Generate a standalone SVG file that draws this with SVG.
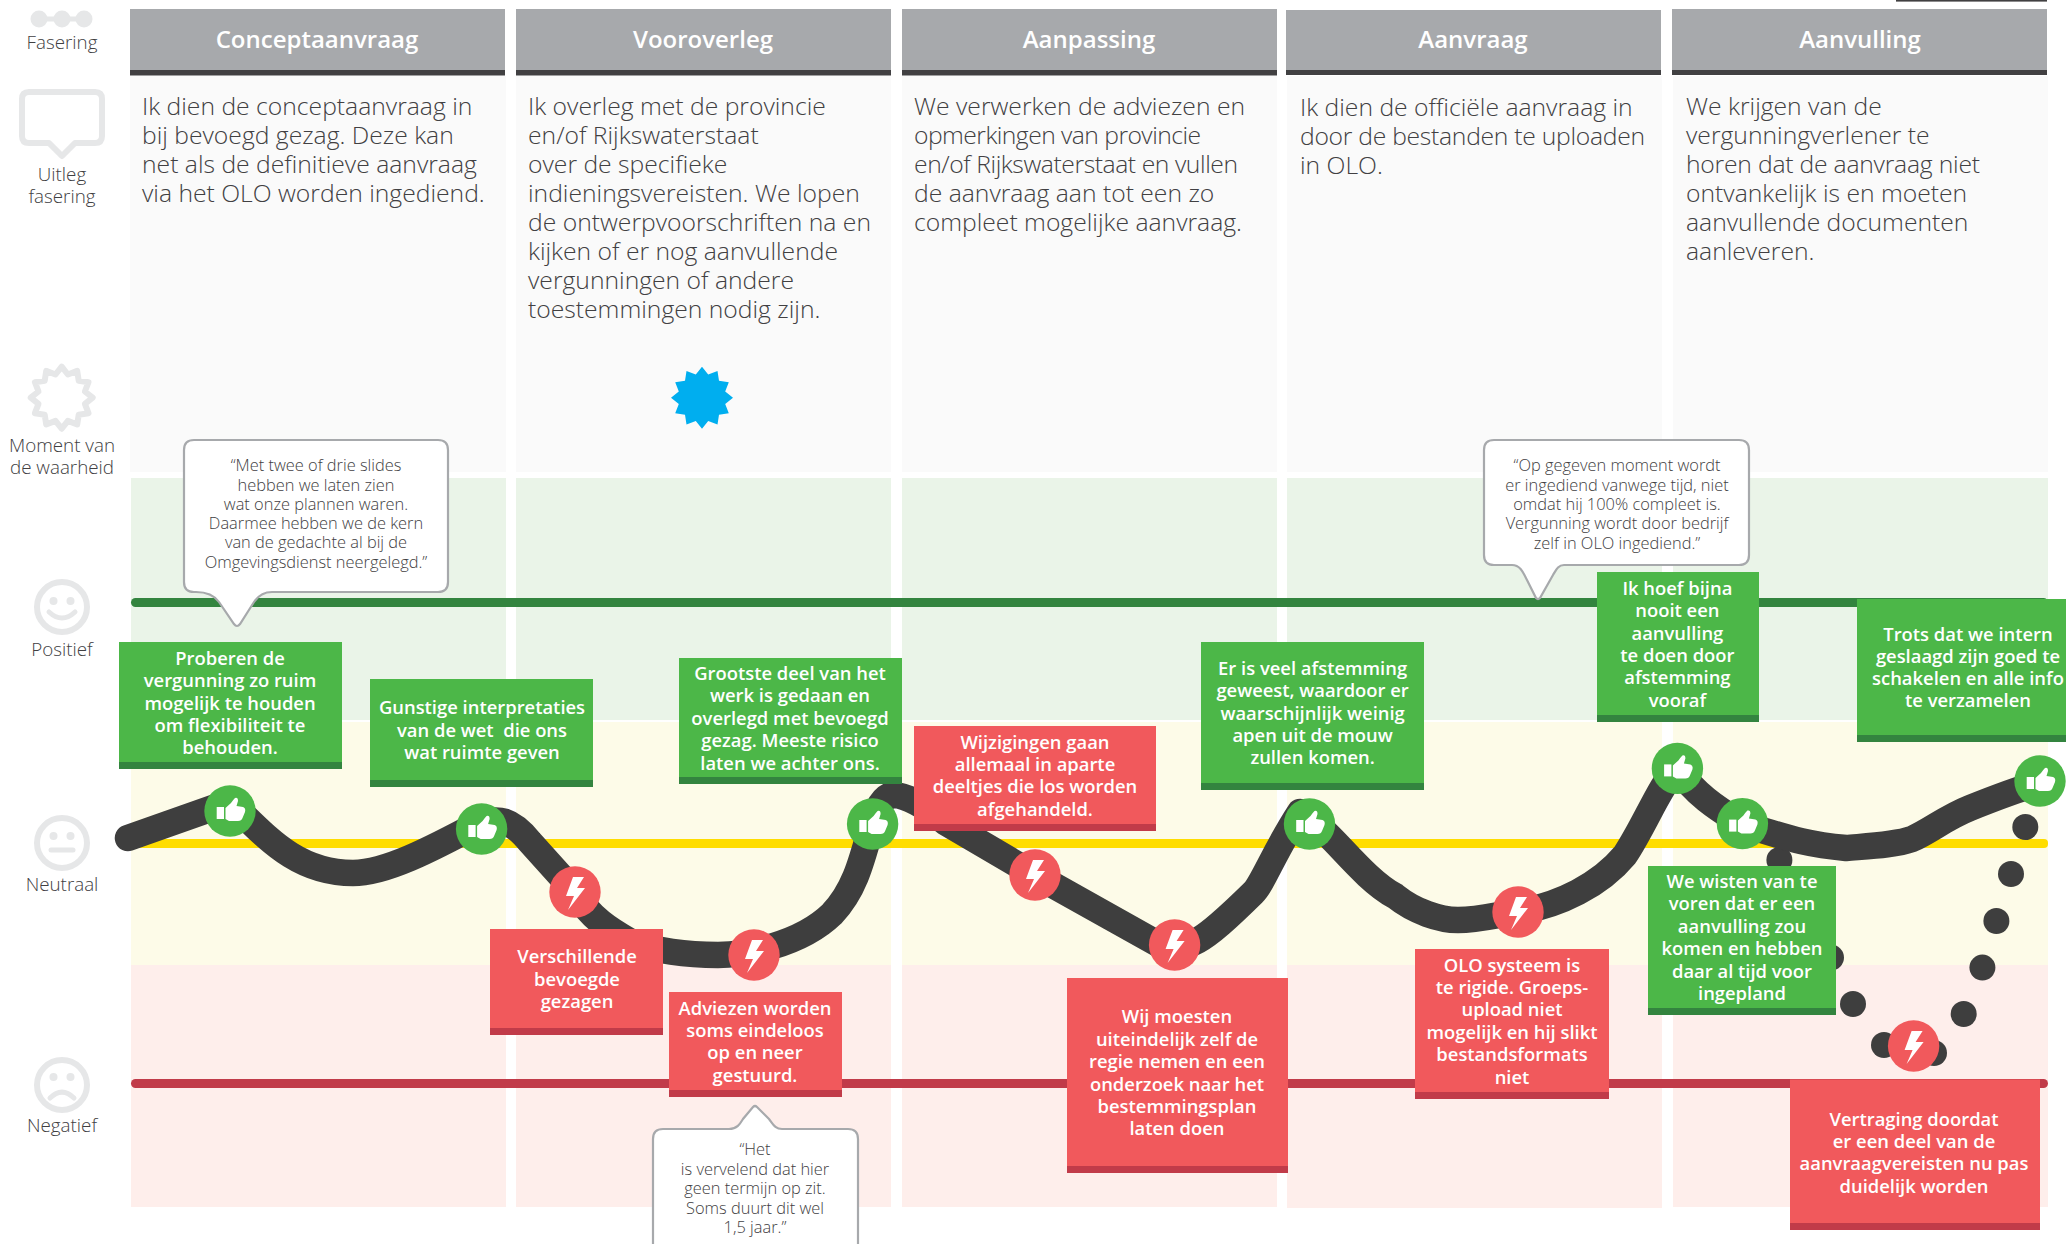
<svg xmlns="http://www.w3.org/2000/svg" xmlns:xlink="http://www.w3.org/1999/xlink" width="2066" height="1244" viewBox="0 0 2066 1244">
<style>
text{font-family:"Open Sans","Noto Sans",sans-serif}
.hdr{fill:#a7a9ac}.hb{fill:#414042}.pan{fill:#fafafa}
.pos{fill:#eaf4e8}.neu{fill:#fdfbe8}.neg{fill:#feeeeb}
.ht{font-size:24px;font-weight:600;fill:#fff;text-anchor:middle}
.body{font-size:24.7px;font-weight:300;fill:#414042}
.lab{font-size:18.8px;font-weight:300;fill:#414042;text-anchor:middle}
.nt{font-size:18.4px;font-weight:600;fill:#fff;text-anchor:middle}
.g{fill:#4cb748}.gd{fill:#33843f}.r{fill:#f1595c}.rd{fill:#c13b49}
.q{fill:#fff;stroke:#a7a9ac;stroke-width:2.2}
.qt{font-size:16.4px;font-weight:300;fill:#414042;text-anchor:middle}
.ic{fill:none;stroke:#e6e7e8;stroke-width:6;stroke-linejoin:round;stroke-linecap:round}
.icf{fill:#e6e7e8}
.dot{fill:#3e3e3e}
</style>
<defs>
<g id="thumb"><circle r="25.7" class="g"/><rect x="-13.300" y="-4" width="7.300" height="12" fill="#fff"/><path d="M-4.500,-3 L1,-8 Q3,-11 5,-13 Q8,-14 8,-10 L6.500,-5 L13,-4 Q16,-3 15,1 L12.500,7 Q11.500,10 8,10 L-1,10 L-4.500,8 Z" fill="#fff"/></g>
<g id="bolt"><circle r="25.7" class="r"/><polygon points="-2,-15 9,-15 2,-4 10,-4 -7,18 -1,4 -9,4" fill="#fff"/></g>
<polygon id="star" points="0,-31 6.200,-23.200 15.500,-26.800 17,-17 26.800,-15.500 23.200,-6.200 31,0 23.200,6.200 26.800,15.500 17,17 15.500,26.800 6.200,23.200 0,31 -6.200,23.200 -15.500,26.800 -17,17 -26.800,15.500 -23.200,6.200 -31,0 -23.200,-6.200 -26.800,-15.500 -17,-17 -15.500,-26.800 -6.200,-23.200"/>
</defs>
<rect width="2066" height="1244" fill="#fff"/>
<rect x="1896" y="0" width="151" height="1.6" fill="#414042"/>

<g id="bands">
<rect class="pan" x="130" y="76" width="376" height="396"/><rect class="pan" x="516" y="76" width="375" height="396"/><rect class="pan" x="902" y="76" width="375" height="396"/><rect class="pan" x="1287" y="76" width="375" height="396"/><rect class="pan" x="1673" y="76" width="375" height="396"/>
<rect class="pos" x="131" y="478" width="375" height="242"/><rect class="pos" x="516" y="478" width="375" height="242"/><rect class="pos" x="902" y="478" width="375" height="242"/><rect class="pos" x="1287" y="478" width="375" height="242"/><rect class="pos" x="1673" y="478" width="375" height="242"/>
<rect class="neu" x="131" y="722" width="375" height="243"/><rect class="neu" x="516" y="722" width="375" height="243"/><rect class="neu" x="902" y="722" width="375" height="243"/><rect class="neu" x="1287" y="722" width="375" height="243"/><rect class="neu" x="1673" y="722" width="375" height="243"/>
<rect class="neg" x="131" y="965" width="375" height="242"/><rect class="neg" x="516" y="965" width="375" height="242"/><rect class="neg" x="902" y="965" width="375" height="242"/><rect class="neg" x="1287" y="965" width="375" height="243"/><rect class="neg" x="1673" y="965" width="375" height="242"/>
</g>

<g id="phase-1"><rect class="hdr" x="130" y="9" width="375" height="61"/><rect class="hb" x="130" y="70" width="375" height="5.5"/><text class="ht" x="317" y="48">Conceptaanvraag</text>
<text class="body" x="142" y="115">Ik dien de conceptaanvraag in</text><text class="body" x="142" y="144">bij bevoegd gezag. Deze kan</text><text class="body" x="142" y="173">net als de definitieve aanvraag</text><text class="body" x="142" y="202">via het OLO worden ingediend.</text></g>
<g id="phase-2"><rect class="hdr" x="516" y="9" width="375" height="61"/><rect class="hb" x="516" y="70" width="375" height="5.5"/><text class="ht" x="703" y="48">Vooroverleg</text>
<text class="body" x="528" y="115">Ik overleg met de provincie</text><text class="body" x="528" y="144">en/of Rijkswaterstaat</text><text class="body" x="528" y="173">over de specifieke</text><text class="body" x="528" y="202">indieningsvereisten. We lopen</text><text class="body" x="528" y="231">de ontwerpvoorschriften na en</text><text class="body" x="528" y="260">kijken of er nog aanvullende</text><text class="body" x="528" y="289">vergunningen of andere</text><text class="body" x="528" y="318">toestemmingen nodig zijn.</text>
<use href="#star" xlink:href="#star" fill="#00aeef" transform="translate(702,397.700)"/></g>
<g id="phase-3"><rect class="hdr" x="902" y="9" width="375" height="61"/><rect class="hb" x="902" y="70" width="375" height="5.5"/><text class="ht" x="1089" y="48">Aanpassing</text>
<text class="body" x="914" y="115">We verwerken de adviezen en</text><text class="body" x="914" y="144" textLength="287">opmerkingen van provincie</text><text class="body" x="914" y="173" textLength="324">en/of Rijkswaterstaat en vullen</text><text class="body" x="914" y="202">de aanvraag aan tot een zo</text><text class="body" x="914" y="231">compleet mogelijke aanvraag.</text></g>
<g id="phase-4"><rect class="hdr" x="1286" y="10" width="375" height="60"/><rect class="hb" x="1286" y="70" width="375" height="5"/><text class="ht" x="1473" y="48">Aanvraag</text>
<text class="body" x="1300" y="115.500">Ik dien de officiële aanvraag in</text><text class="body" x="1300" y="144.500" textLength="345">door de bestanden te uploaden</text><text class="body" x="1300" y="173.500">in OLO.</text></g>
<g id="phase-5"><rect class="hdr" x="1672" y="9" width="375" height="61"/><rect class="hb" x="1672" y="70" width="375" height="5"/><text class="ht" x="1860" y="48">Aanvulling</text>
<text class="body" x="1686" y="115">We krijgen van de</text><text class="body" x="1686" y="144">vergunningverlener te</text><text class="body" x="1686" y="173" textLength="294">horen dat de aanvraag niet</text><text class="body" x="1686" y="202">ontvankelijk is en moeten</text><text class="body" x="1686" y="231">aanvullende documenten</text><text class="body" x="1686" y="260">aanleveren.</text></g>

<g id="label-fasering"><path d="M39,19H84" stroke="#e6e7e8" stroke-width="5"/><circle class="icf" cx="39" cy="19" r="8.500"/><circle class="icf" cx="62" cy="19" r="8.500"/><circle class="icf" cx="84" cy="19" r="8.500"/><text class="lab" x="62" y="49">Fasering</text></g>
<g id="label-uitleg"><path class="ic" d="M29,92H95Q102,92 102,99V136Q102,143 95,143H75L62,156L49,143H29Q22,143 22,136V99Q22,92 29,92Z"/><text class="lab" x="62" y="181">Uitleg</text><text class="lab" x="62" y="203">fasering</text></g>
<g id="label-moment"><use href="#star" xlink:href="#star" class="ic" transform="translate(61.700,397.700)"/><text class="lab" x="62" y="452">Moment van</text><text class="lab" x="62" y="474">de waarheid</text></g>
<g id="label-positief"><circle class="ic" cx="62" cy="607" r="25"/><circle class="icf" cx="53.500" cy="601" r="4"/><circle class="icf" cx="70.500" cy="601" r="4"/><path class="ic" style="stroke-width:5" d="M49,612Q62,624 75,612"/><text class="lab" x="62" y="656">Positief</text></g>
<g id="label-neutraal"><circle class="ic" cx="62" cy="843" r="25"/><circle class="icf" cx="53.500" cy="836" r="4"/><circle class="icf" cx="70.500" cy="836" r="4"/><path class="ic" style="stroke-width:5" d="M51,850H73"/><text class="lab" x="62" y="891">Neutraal</text></g>
<g id="label-negatief"><circle class="ic" cx="62" cy="1085" r="25"/><circle class="icf" cx="53.500" cy="1077" r="4"/><circle class="icf" cx="70.500" cy="1077" r="4"/><path class="ic" style="stroke-width:5" d="M50,1098Q62,1086 74,1098"/><text class="lab" x="62" y="1132">Negatief</text></g>

<g id="connectors">
<rect x="131" y="598" width="1917" height="9" rx="4.500" fill="#33843f"/>
<rect x="131" y="839" width="1917" height="9" rx="4" fill="#ffdd00"/>
<rect x="131" y="1079" width="1917" height="9" rx="4.500" fill="#c13b49"/>
<circle class="dot" cx="2025.300" cy="827" r="13"/><circle class="dot" cx="2011" cy="874" r="13"/><circle class="dot" cx="1996.400" cy="921" r="13"/><circle class="dot" cx="1982.400" cy="967.600" r="13"/><circle class="dot" cx="1963.700" cy="1014" r="13"/><circle class="dot" cx="1934" cy="1053" r="13"/><circle class="dot" cx="1884" cy="1045" r="13"/><circle class="dot" cx="1853" cy="1004" r="13"/><circle class="dot" cx="1831" cy="957.600" r="13"/><circle class="dot" cx="1779.400" cy="860" r="13"/>
<path fill="none" stroke="#3e3e3e" stroke-width="26.500" stroke-linecap="round" stroke-linejoin="round" d="M128,838 L230,802 C265,835 295,873 353,873 C385,873 430,850 482,822 C495,820 508,815 530,842 L575,892 C590,918 610,930 631,942 C660,952 690,955 718,955 C745,955 800,945 832,914 C855,890 862,860 872,824 C878,805 885,795 893,795 C905,795 925,805 945,822 L1035,875 L1160,945 C1190,950 1200,945 1253,893 C1262,885 1275,850 1300,812 L1316,824 C1335,838 1365,880 1395,896 C1415,912 1440,920 1458,920 C1480,920 1500,914 1518,912 C1560,905 1600,885 1625,855 C1645,825 1660,785 1677,768 C1695,795 1720,810 1742,824 C1780,835 1800,844 1846,848 C1870,846 1895,845 1912,839 C1932,830 1945,818 1970,808 C1990,800 2015,790 2040,783"/>
</g>

<g id="nodes">
<use id="m1" xlink:href="#thumb" href="#thumb" x="230" y="811"/>
<use id="m2" xlink:href="#thumb" href="#thumb" x="481.600" y="829"/>
<use id="m3" xlink:href="#bolt" href="#bolt" x="575" y="892"/>
<use id="m4" xlink:href="#bolt" href="#bolt" x="754" y="955"/>
<use id="m5" xlink:href="#thumb" href="#thumb" x="872.600" y="824"/>
<use id="m6" xlink:href="#bolt" href="#bolt" x="1035" y="875"/>
<use id="m7" xlink:href="#bolt" href="#bolt" x="1174.600" y="945"/>
<use id="m8" xlink:href="#thumb" href="#thumb" x="1309.500" y="824"/>
<use id="m9" xlink:href="#bolt" href="#bolt" x="1518" y="912"/>
<use id="m10" xlink:href="#thumb" href="#thumb" x="1677.400" y="768.400"/>
<use id="m11" xlink:href="#thumb" href="#thumb" x="1742.400" y="823.600"/>
<use id="m12" xlink:href="#thumb" href="#thumb" x="2040" y="781"/>
<use id="m13" xlink:href="#bolt" href="#bolt" x="1913.600" y="1046"/>
</g>

<g id="note-1"><rect class="g" x="119" y="642" width="223" height="120"/><rect class="gd" x="119" y="762" width="223" height="7"/><text class="nt"><tspan x="230" y="665">Proberen de</tspan><tspan x="230" y="687">vergunning zo ruim</tspan><tspan x="230" y="709.500">mogelijk te houden</tspan><tspan x="230" y="732">om flexibiliteit te</tspan><tspan x="230" y="754">behouden.</tspan></text></g>
<g id="note-2"><rect class="g" x="370" y="679" width="223" height="101"/><rect class="gd" x="370" y="780" width="223" height="7"/><text class="nt" xml:space="preserve"><tspan x="482" y="713.500">Gunstige interpretaties</tspan><tspan x="482" y="736.500">van de wet  die ons</tspan><tspan x="482" y="759">wat ruimte geven</tspan></text></g>
<g id="note-3"><rect class="g" x="679" y="658" width="223" height="119"/><rect class="gd" x="679" y="777" width="223" height="7"/><text class="nt"><tspan x="790" y="680">Grootste deel van het</tspan><tspan x="790" y="702">werk is gedaan en</tspan><tspan x="790" y="725">overlegd met bevoegd</tspan><tspan x="790" y="747">gezag. Meeste risico</tspan><tspan x="790" y="770">laten we achter ons.</tspan></text></g>
<g id="note-4"><rect class="r" x="490" y="929" width="173" height="99"/><rect class="rd" x="490" y="1028" width="173" height="7"/><text class="nt"><tspan x="577" y="963">Verschillende</tspan><tspan x="577" y="986">bevoegde</tspan><tspan x="577" y="1008">gezagen</tspan></text></g>
<g id="note-5"><rect class="r" x="669" y="992" width="173" height="98"/><rect class="rd" x="669" y="1090" width="173" height="7"/><text class="nt"><tspan x="755" y="1015">Adviezen worden</tspan><tspan x="755" y="1037">soms eindeloos</tspan><tspan x="755" y="1059">op en neer</tspan><tspan x="755" y="1082">gestuurd.</tspan></text></g>
<g id="note-6"><rect class="r" x="914" y="726" width="242" height="98"/><rect class="rd" x="914" y="824" width="242" height="7"/><text class="nt"><tspan x="1035" y="748.500">Wijzigingen gaan</tspan><tspan x="1035" y="771">allemaal in aparte</tspan><tspan x="1035" y="793">deeltjes die los worden</tspan><tspan x="1035" y="816">afgehandeld.</tspan></text></g>
<g id="note-7"><rect class="g" x="1201" y="642" width="223" height="141"/><rect class="gd" x="1201" y="783" width="223" height="7"/><text class="nt"><tspan x="1312.600" y="675">Er is veel afstemming</tspan><tspan x="1312.600" y="697">geweest, waardoor er</tspan><tspan x="1312.600" y="720">waarschijnlijk weinig</tspan><tspan x="1312.600" y="742">apen uit de mouw</tspan><tspan x="1312.600" y="764">zullen komen.</tspan></text></g>
<g id="note-8"><rect class="r" x="1067" y="978" width="221" height="188"/><rect class="rd" x="1067" y="1166" width="221" height="7"/><text class="nt"><tspan x="1177" y="1023">Wij moesten</tspan><tspan x="1177" y="1046">uiteindelijk zelf de</tspan><tspan x="1177" y="1068">regie nemen en een</tspan><tspan x="1177" y="1091">onderzoek naar het</tspan><tspan x="1177" y="1113">bestemmingsplan</tspan><tspan x="1177" y="1135">laten doen</tspan></text></g>
<g id="note-9"><rect class="r" x="1415" y="949" width="194" height="143"/><rect class="rd" x="1415" y="1092" width="194" height="7"/><text class="nt"><tspan x="1512" y="972">OLO systeem is</tspan><tspan x="1512" y="994">te rigide. Groeps-</tspan><tspan x="1512" y="1016">upload niet</tspan><tspan x="1512" y="1038.500">mogelijk en hij slikt</tspan><tspan x="1512" y="1061">bestandsformats</tspan><tspan x="1512" y="1084">niet</tspan></text></g>
<g id="note-10"><rect class="g" x="1597" y="572" width="162" height="143"/><rect class="gd" x="1597" y="715" width="162" height="7"/><text class="nt"><tspan x="1677.400" y="594.500">Ik hoef bijna</tspan><tspan x="1677.400" y="617">nooit een</tspan><tspan x="1677.400" y="640">aanvulling</tspan><tspan x="1677.400" y="662">te doen door</tspan><tspan x="1677.400" y="684">afstemming</tspan><tspan x="1677.400" y="707">vooraf</tspan></text></g>
<g id="note-11"><rect class="g" x="1857" y="599" width="209" height="136"/><rect class="gd" x="1857" y="735" width="209" height="7"/><text class="nt"><tspan x="1968" y="641">Trots dat we intern</tspan><tspan x="1968" y="663">geslaagd zijn goed te</tspan><tspan x="1968" y="684.500">schakelen en alle info</tspan><tspan x="1968" y="707">te verzamelen</tspan></text></g>
<g id="note-12"><rect class="g" x="1648" y="866" width="188" height="142"/><rect class="gd" x="1648" y="1008" width="188" height="7"/><text class="nt"><tspan x="1742" y="888">We wisten van te</tspan><tspan x="1742" y="910">voren dat er een</tspan><tspan x="1742" y="932.500">aanvulling zou</tspan><tspan x="1742" y="955">komen en hebben</tspan><tspan x="1742" y="978">daar al tijd voor</tspan><tspan x="1742" y="1000">ingepland</tspan></text></g>
<g id="note-13"><rect class="r" x="1790" y="1079.500" width="250" height="143.500"/><rect class="rd" x="1790" y="1223" width="250" height="7"/><text class="nt"><tspan x="1914" y="1126">Vertraging doordat</tspan><tspan x="1914" y="1148">er een deel van de</tspan><tspan x="1914" y="1170">aanvraagvereisten nu pas</tspan><tspan x="1914" y="1193">duidelijk worden</tspan></text></g>

<g id="quote-1"><path class="q" d="M194,440H438Q448,440 448,450V582Q448,592 438,592H272C264,592 258,596 254,602L240,624Q237,628 234,624L219,602C214,595 206,592 196,592H194Q184,592 184,582V450Q184,440 194,440Z"/><text class="qt"><tspan x="316" y="471">“Met twee of drie slides</tspan><tspan x="316" y="491">hebben we laten zien</tspan><tspan x="316" y="510">wat onze plannen waren.</tspan><tspan x="316" y="529">Daarmee hebben we de kern</tspan><tspan x="316" y="548">van de gedachte al bij de</tspan><tspan x="316" y="568">Omgevingsdienst neergelegd.”</tspan></text></g>
<g id="quote-2"><path class="q" d="M1494,440H1739Q1749,440 1749,450V555Q1749,565 1739,565H1564C1558,565 1556,570 1553,575L1540,598Q1538,600 1536,598L1527,580C1523,572 1520,565 1512,565H1494Q1484,565 1484,555V450Q1484,440 1494,440Z"/><text class="qt"><tspan x="1617" y="471">“Op gegeven moment wordt</tspan><tspan x="1617" y="490.500">er ingediend vanwege tijd, niet</tspan><tspan x="1617" y="510">omdat hij 100% compleet is.</tspan><tspan x="1617" y="529">Vergunning wordt door bedrijf</tspan><tspan x="1617" y="548.500">zelf in OLO ingediend.”</tspan></text></g>
<g id="quote-3"><path class="q" d="M663,1129H729C737,1129 740,1124 743,1119L753,1107Q755,1105 757,1107L769,1119C773,1124 775,1129 782,1129H848Q858,1129 858,1139V1260H653V1139Q653,1129 663,1129Z"/><text class="qt"><tspan x="755" y="1155">“Het</tspan><tspan x="755" y="1175">is vervelend dat hier</tspan><tspan x="755" y="1194">geen termijn op zit.</tspan><tspan x="755" y="1214">Soms duurt dit wel</tspan><tspan x="755" y="1233">1,5 jaar.”</tspan></text></g>
</svg>
